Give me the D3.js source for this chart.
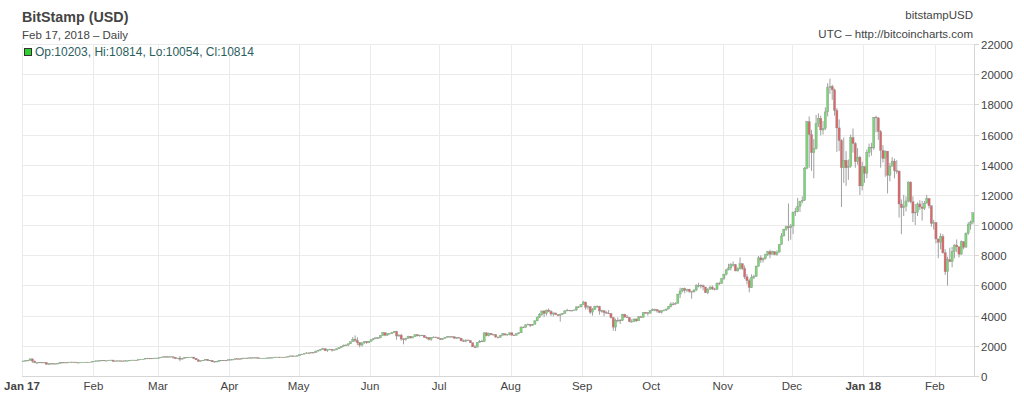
<!DOCTYPE html>
<html>
<head>
<meta charset="utf-8">
<script src="https://cdn.jsdelivr.net/npm/d3@7/dist/d3.min.js"></script>
<style>
  body { margin: 0; background: #fff; }
  text { font-family: "Liberation Sans", Arial, sans-serif; }
</style>
</head>
<body>
<div id="chart"></div>
<script>
// Daily BitStamp candles, 1 Jan 2017 .. 17 Feb 2018 (open = previous close)
const firstOpen = 964;
const closes = [
  998,1015,1033,1135,989,886,894,906,896,904,785,812,826,818,821,831,907,862,899,894,921,924,921,892,893,915,918,919,914,921,966,
  986,1007,1019,1038,1016,1025,1050,1054,978,997,1009,999,996,1010,1012,1035,1055,1055,1052,1089,1118,1121,1178,1172,1146,1174,1189,1190,
  1222,1253,1285,1263,1274,1278,1231,1150,1189,1117,1175,1225,1238,1245,1255,1173,1070,970,1017,1045,1114,1040,1033,938,965,966,1045,1045,1040,1037,1079,
  1087,1098,1143,1140,1125,1187,1190,1182,1205,1206,1219,1206,1172,1180,1185,1185,1204,1210,1223,1253,1255,1251,1251,1250,1264,1291,1333,1319,1326,1351,
  1418,1452,1490,1530,1520,1558,1554,1657,1700,1757,1808,1680,1750,1776,1714,1732,1800,1878,1968,2050,2047,2130,2270,2440,2355,2200,2050,2200,2270,2200,2300,
  2410,2480,2530,2520,2690,2870,2700,2800,2810,2890,2960,2650,2710,2450,2440,2490,2620,2520,2600,2730,2660,2700,2700,2560,2550,2430,2570,2580,2540,2480,
  2420,2490,2560,2600,2610,2600,2500,2550,2510,2330,2310,2380,2350,2200,1930,1910,2220,2300,2270,2860,2670,2830,2740,2750,2580,2560,2690,2800,2720,2750,2860,
  2710,2700,2800,2860,3240,3220,3390,3420,3340,3420,3650,3870,4060,4310,4150,4370,4280,4110,4180,4070,4010,4090,4140,4310,4360,4340,4340,4380,4580,4570,4730,
  4900,4560,4600,4230,4400,4600,4620,4310,4320,4200,4170,4140,3870,3240,3690,3690,3670,4090,3910,3880,3600,3600,3780,3650,3920,3880,4200,4190,4160,4340,
  4400,4400,4310,4220,4330,4370,4440,4610,4770,4760,4820,5430,5640,5800,5680,5750,5600,5570,5700,6000,6000,5980,5900,5520,5740,5890,5770,5750,6150,6130,6440,
  6740,7030,7160,7380,7380,6960,7100,7440,7130,6570,6320,5860,6520,6590,7280,7830,7690,7780,8030,8240,8070,8230,8060,8210,8710,9280,9720,9890,9820,9940,
  10860,10900,11230,11590,11650,13770,16850,16000,14800,15060,16730,17080,16300,16420,17500,19100,19190,18960,17600,16440,15600,13800,14300,13800,13900,15800,15400,14200,14500,12600,13880,
  13440,14800,15150,15110,17140,17100,16190,14950,14420,14900,13300,13900,14240,13600,13580,11400,11150,11250,11600,12850,11550,10800,10860,11400,11200,11100,11450,11760,11280,10110,10170,
  9080,8870,9250,8170,6910,7700,7580,8260,8680,8560,8070,8900,8530,9470,10040,10203,10814
];
const highs = [
  1000,1031,1035,1148,1150,1027,900,935,910,908,917,826,836,838,825,835,910,918,903,900,925,939,926,925,901,918,923,923,919,923,968,
  990,1010,1024,1045,1040,1030,1055,1070,1070,1005,1012,1010,1002,1012,1015,1040,1058,1063,1060,1090,1125,1128,1185,1200,1175,1178,1195,1200,
  1225,1262,1289,1285,1275,1280,1280,1250,1200,1330,1190,1240,1245,1250,1257,1260,1175,1108,1027,1055,1120,1118,1058,1035,975,1004,1047,1060,1058,1055,1090,
  1098,1105,1150,1148,1143,1195,1195,1198,1212,1212,1225,1220,1210,1188,1190,1190,1207,1215,1230,1258,1265,1264,1258,1255,1268,1305,1345,1345,1330,1356,
  1425,1470,1500,1580,1565,1580,1575,1665,1740,1775,1870,1820,1765,1805,1780,1760,1830,1900,1975,2070,2100,2170,2280,2580,2690,2570,2250,2230,2310,2320,2340,
  2420,2500,2550,2550,2700,2900,2890,2815,2840,2920,2980,2990,2770,2800,2510,2530,2670,2650,2620,2780,2770,2740,2740,2720,2620,2570,2580,2620,2600,2560,
  2500,2515,2590,2650,2630,2625,2600,2560,2560,2520,2410,2420,2430,2360,2210,2050,2240,2390,2400,2900,2910,2880,2840,2780,2770,2620,2720,2830,2810,2770,2880,
  2900,2760,2820,2880,3300,3290,3420,3480,3430,3450,3700,3960,4180,4330,4350,4400,4480,4360,4200,4190,4100,4140,4170,4370,4460,4380,4370,4390,4620,4640,4750,
  4980,4930,4700,4600,4500,4660,4680,4650,4400,4350,4290,4370,4170,3900,3800,3880,3780,4120,4120,4040,3900,3760,3800,3790,3980,3990,4230,4250,4230,4360,
  4470,4470,4430,4360,4360,4420,4460,4620,4880,4900,4880,5440,5850,5840,5860,5780,5780,5600,5740,6080,6180,6080,6060,5900,5820,5980,6000,5820,6200,6240,6470,
  6770,7100,7440,7480,7590,7420,7200,7860,7450,7320,6750,6460,6740,6710,7320,7950,8000,7860,8100,8290,8370,8300,8280,8330,8740,9480,9750,9960,11430,10080,
  10880,11150,11800,11600,11900,13850,16900,17200,16300,15700,17300,17400,17250,16900,17800,19400,19700,19300,19050,17750,17000,15700,15800,14900,14350,16000,16400,15500,15100,14600,14200,
  13880,15000,15400,15450,17170,17250,17150,16300,15300,14950,14900,14120,14500,14400,14300,13600,11700,12000,11900,12900,12900,11900,11400,11500,11650,11600,11600,12000,11800,11290,10350,
  10200,9100,9450,9400,8400,7900,8500,8560,8720,9050,8580,8980,8920,9500,10200,10300,10814
];
const lows = [
  958,990,1007,1022,870,852,806,880,870,886,750,736,768,808,810,817,828,855,860,883,890,880,916,885,885,893,910,915,908,913,920,
  962,980,1000,1013,1010,1013,1023,1043,930,960,995,995,986,993,1005,1010,1032,1047,1045,1050,1080,1095,1116,1120,1120,1140,1165,1175,
  1179,1208,1240,1232,1245,1262,1150,1125,1133,980,1100,1165,1218,1225,1240,1125,1070,960,945,1007,1040,993,1000,930,889,937,957,1015,1010,1025,1035,
  1078,1083,1096,1122,1110,1124,1175,1170,1175,1195,1205,1200,1155,1165,1170,1165,1182,1200,1200,1220,1235,1220,1230,1238,1245,1262,1288,1290,1310,1312,
  1345,1400,1445,1485,1490,1515,1530,1555,1610,1690,1765,1650,1600,1700,1620,1690,1718,1790,1860,1945,2000,1980,2120,2270,2250,2050,1900,1950,2130,2130,2180,
  2290,2380,2440,2460,2515,2680,2640,2670,2765,2780,2850,2400,2600,2340,2100,2340,2470,2490,2500,2590,2620,2600,2650,2540,2450,2360,2330,2530,2520,2460,
  2390,2400,2480,2560,2570,2580,2490,2470,2500,2300,2260,2240,2330,2180,1930,1840,1910,2210,2250,2260,2630,2620,2700,2700,2540,2490,2540,2680,2680,2680,2700,
  2670,2650,2690,2770,2850,3170,3200,3370,3250,3320,3420,3640,3850,3990,3900,4000,4240,3980,3950,4050,3960,3600,4060,4130,4300,4290,4320,4310,4320,4530,4570,
  4720,4400,4400,4100,4000,4400,4500,4060,4200,3950,4130,4110,3810,3000,2980,3550,3450,3670,3860,3850,3570,3560,3570,3600,3650,3850,3880,4130,4000,4150,
  4310,4290,4200,4170,4140,4280,4300,4420,4540,4690,4730,4810,5170,5550,5480,5560,5520,5120,5530,5630,5870,5800,5670,5500,5420,5720,5700,5670,5690,6030,6110,
  6370,6660,7000,6990,7250,6950,6930,7040,7020,6420,6070,5550,5830,6420,6590,7240,7500,7520,7720,7950,7800,8060,8000,7970,8180,8700,9250,9620,8950,9030,
  9400,10600,10850,10870,11450,11600,13700,13800,13600,13100,15000,16500,15950,16000,16300,17200,18700,18300,17250,14850,14900,11200,12800,12600,13000,13800,14800,13800,14000,12000,12300,
  12800,13100,14500,14600,15000,16150,15650,13800,14150,13200,12100,12900,13900,13100,13400,10500,9400,10600,10900,11500,11450,10200,10000,10600,11000,10300,11000,11450,11100,9900,9700,
  8780,7800,8400,8100,6700,6000,7550,7200,7800,8200,7850,8050,8400,8520,9350,9700,10054
];
const monthLabels = ['Jan 17', 'Feb', 'Mar', 'Apr', 'May', 'Jun', 'Jul', 'Aug', 'Sep', 'Oct', 'Nov', 'Dec', 'Jan 18', 'Feb'];
const yTicks = [0, 2000, 4000, 6000, 8000, 10000, 12000, 14000, 16000, 18000, 20000, 22000];

const width = 1024;
const height = 399;
const plot = { left: 22, right: 974, top: 44, bottom: 376 };

const startDay = new Date(Date.UTC(2017, 0, 1));
const endDay = new Date(Date.UTC(2018, 1, 18));
const days = d3.utcDay.range(startDay, endDay);

const candles = days.map((d, i) => {
  const open = i === 0 ? firstOpen : closes[i - 1];
  const close = closes[i];
  return {
    date: d,
    open,
    close,
    high: Math.max(highs[i], open, close),
    low: Math.min(lows[i], open, close),
  };
});

const x = d3.scaleUtc().domain([startDay, endDay]).range([plot.left, plot.right]);
const y = d3.scaleLinear().domain([0, 22000]).range([plot.bottom, plot.top]);
const step = x(d3.utcDay.offset(startDay, 1)) - x(startDay);

const svg = d3.select('#chart').append('svg')
  .attr('width', width)
  .attr('height', height);

svg.append('rect')
  .attr('width', width)
  .attr('height', height)
  .attr('fill', '#fff');

// grid
const grid = svg.append('g');
grid.selectAll('.hgrid')
  .data(yTicks)
  .join('line')
  .attr('x1', plot.left)
  .attr('x2', plot.right)
  .attr('y1', (d) => Math.round(y(d)) + 0.5)
  .attr('y2', (d) => Math.round(y(d)) + 0.5)
  .attr('stroke', (d) => (d === 0 ? '#d6d6d6' : '#ebebeb'));

const months = d3.utcMonth.range(startDay, endDay);
grid.selectAll('.vgrid')
  .data(months)
  .join('line')
  .attr('x1', (d) => Math.round(x(d)) + 0.5)
  .attr('x2', (d) => Math.round(x(d)) + 0.5)
  .attr('y1', plot.top)
  .attr('y2', plot.bottom)
  .attr('stroke', '#ebebeb');

// right axis line and ticks
grid.append('line')
  .attr('x1', plot.right + 0.5)
  .attr('x2', plot.right + 0.5)
  .attr('y1', plot.top)
  .attr('y2', plot.bottom + 1)
  .attr('stroke', '#d6d6d6');
grid.selectAll('.ytick')
  .data(yTicks)
  .join('line')
  .attr('x1', plot.right)
  .attr('x2', plot.right + 5)
  .attr('y1', (d) => Math.round(y(d)) + 0.5)
  .attr('y2', (d) => Math.round(y(d)) + 0.5)
  .attr('stroke', '#d6d6d6');

// candles
const candleG = svg.append('g');
const bodyW = 2.2;
candleG.selectAll('.wick')
  .data(candles)
  .join('line')
  .attr('x1', (d) => x(d.date) + step / 2)
  .attr('x2', (d) => x(d.date) + step / 2)
  .attr('y1', (d) => y(d.high))
  .attr('y2', (d) => y(d.low))
  .attr('stroke', '#a0a0a0')
  .attr('stroke-width', 1);

candleG.selectAll('.body')
  .data(candles)
  .join('rect')
  .attr('x', (d) => x(d.date) + step / 2 - bodyW / 2)
  .attr('width', bodyW)
  .attr('y', (d) => y(Math.max(d.open, d.close)))
  .attr('height', (d) => Math.max(0.6, Math.abs(y(d.open) - y(d.close))))
  .attr('fill', (d) => (d.close >= d.open ? '#78d674' : '#d9676a'))
  .attr('stroke', '#909090')
  .attr('stroke-width', 0.35);

// y labels
svg.selectAll('.ylab')
  .data(yTicks)
  .join('text')
  .attr('x', 981)
  .attr('y', (d) => y(d) + 1)
  .attr('dy', '0.35em')
  .attr('font-size', '11.5px')
  .attr('fill', '#444')
  .text((d) => d);

// x labels
svg.selectAll('.xlab')
  .data(months)
  .join('text')
  .attr('x', (d) => x(d))
  .attr('y', 390)
  .attr('text-anchor', 'middle')
  .attr('font-size', '11.5px')
  .attr('font-weight', (d, i) => (monthLabels[i].includes(' ') ? 'bold' : 'normal'))
  .attr('fill', '#444')
  .text((d, i) => monthLabels[i]);

// header
svg.append('text')
  .attr('x', 22).attr('y', 22)
  .attr('font-size', '14.3px').attr('font-weight', 'bold').attr('fill', '#444')
  .text('BitStamp (USD)');
svg.append('text')
  .attr('x', 22).attr('y', 39)
  .attr('font-size', '11.5px').attr('fill', '#444')
  .text('Feb 17, 2018 – Daily');
svg.append('text')
  .attr('x', 973).attr('y', 19)
  .attr('text-anchor', 'end')
  .attr('font-size', '11.5px').attr('fill', '#444')
  .text('bitstampUSD');
svg.append('text')
  .attr('x', 973).attr('y', 38)
  .attr('text-anchor', 'end')
  .attr('font-size', '11.5px').attr('fill', '#444')
  .text('UTC – http://bitcoincharts.com');

// legend for the last candle
const last = candles[candles.length - 1];
svg.append('rect')
  .attr('x', 24.5).attr('y', 48.5)
  .attr('width', 7).attr('height', 7)
  .attr('fill', '#2fcf2f')
  .attr('stroke', '#333');
svg.append('text')
  .attr('x', 35).attr('y', 56)
  .attr('font-size', '12px').attr('fill', '#2b5e5e')
  .text(`Op:${last.open}, Hi:${last.high}, Lo:${last.low}, Cl:${last.close}`);

if (closes.length !== days.length || highs.length !== days.length || lows.length !== days.length) {
  svg.append('text').attr('x', 300).attr('y', 200).attr('fill', 'red')
    .text(`len ${days.length} ${closes.length} ${highs.length} ${lows.length}`);
}
</script>
</body>
</html>
